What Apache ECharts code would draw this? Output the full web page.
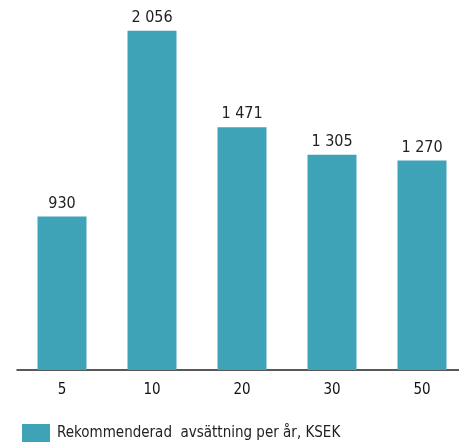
<!DOCTYPE html>
<html>
<head>
<meta charset="utf-8">
<script src="https://cdn.jsdelivr.net/npm/echarts@6/dist/echarts.min.js"></script>
<style>
html,body{margin:0;padding:0;background:#fff;}
#chart{width:459px;height:444px;}
</style>
</head>
<body>
<div id="chart"></div>
<script>
// Recommended yearly provision per horizon (years), KSEK
const categories = ['5', '10', '20', '30', '50'];
const values = [930, 2056, 1471, 1305, 1270];
const seriesName = 'Rekommenderad  avsättning per år, KSEK';

const FONT = '"DejaVu Sans Condensed", "Liberation Sans Narrow", "Liberation Sans", Arial, sans-serif';
const BAR = '#3ea3b7';

// thousands separated by a space: 2056 -> "2 056"
function fmt(v) {
  return String(v).replace(/\B(?=(\d{3})+(?!\d))/g, ' ');
}

const chart = echarts.init(document.getElementById('chart'), null, {renderer: 'canvas'});
chart.setOption({
  animation: false,
  backgroundColor: '#ffffff',
  grid: {left: 17, width: 450, top: 7, bottom: 74, containLabel: false, outerBoundsMode: 'none'},
  xAxis: {
    type: 'category',
    data: categories,
    axisLine: {lineStyle: {color: '#222', width: 1.5}},
    axisTick: {show: false},
    axisLabel: {color: '#111', fontFamily: FONT, fontSize: 15, margin: 13}
  },
  yAxis: {
    type: 'value',
    min: 0,
    max: 2200,
    show: false,
    splitLine: {show: false}
  },
  legend: {
    left: 17,
    top: 419,
    itemWidth: 28,
    itemHeight: 18,
    icon: 'rect',
    textStyle: {color: '#222', fontFamily: FONT, fontSize: 15, padding: [0, 0, 0, 2]},
    data: [seriesName]
  },
  series: [{
    name: seriesName,
    type: 'bar',
    data: values,
    barWidth: 49,
    itemStyle: {color: BAR},
    label: {
      show: true,
      position: 'top',
      distance: 5,
      color: '#222',
      fontFamily: FONT,
      fontSize: 16,
      formatter: p => fmt(p.value)
    }
  }]
});
</script>
</body>
</html>
